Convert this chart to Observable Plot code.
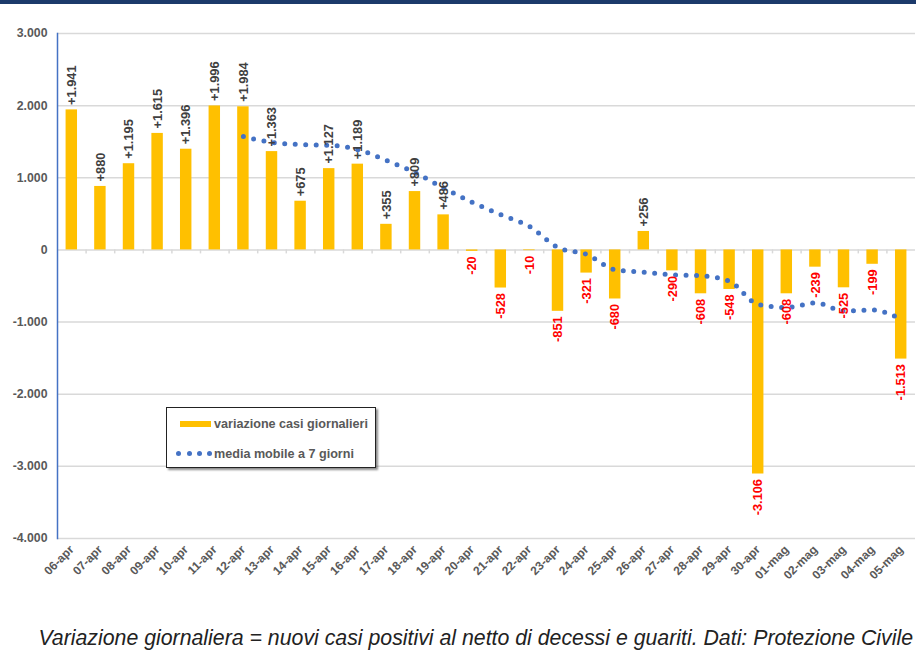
<!DOCTYPE html>
<html><head><meta charset="utf-8">
<script src="https://cdn.jsdelivr.net/npm/d3@7"></script>
<script src="https://cdn.jsdelivr.net/npm/@observablehq/plot@0.6"></script>
<style>
body{margin:0;background:#fff;width:916px;height:653px;overflow:hidden;position:relative;font-family:"Liberation Sans",Arial,sans-serif;}
#topbar{position:absolute;left:0;top:0;width:916px;height:4px;background:#1c3a6b;}
#chart{position:absolute;left:0;top:0;}
#legend{position:absolute;left:166px;top:407px;width:208px;height:59px;border:1px solid #222;background:#fff;box-shadow:2px 2px 2px rgba(0,0,0,0.45);}
.lg{position:absolute;left:47px;font-weight:bold;font-size:12.6px;color:#595959;white-space:nowrap;line-height:14px;}
#sw1{position:absolute;left:13px;top:13px;width:31px;height:6px;background:#ffc000;}
.dot{position:absolute;width:5px;height:5px;border-radius:50%;background:#4472c4;top:43px;}
#caption{position:absolute;right:3px;top:626px;font-style:italic;font-size:21.3px;color:#222;white-space:nowrap;line-height:24px;}
</style>
</head><body>
<div id="chart"></div>
<div id="topbar"></div>
<div id="legend">
  <div id="sw1"></div><div class="lg" style="top:9px">variazione casi giornalieri</div>
  <div class="dot" style="left:9px"></div><div class="dot" style="left:20px"></div><div class="dot" style="left:30px"></div><div class="dot" style="left:40px"></div>
  <div class="lg" style="top:39px">media mobile a 7 giorni</div>
</div>
<div id="caption">Variazione giornaliera = nuovi casi positivi al netto di decessi e guariti. Dati: Protezione Civile</div>
<script>
const days = ["06-apr","07-apr","08-apr","09-apr","10-apr","11-apr","12-apr","13-apr","14-apr","15-apr","16-apr","17-apr","18-apr","19-apr","20-apr","21-apr","22-apr","23-apr","24-apr","25-apr","26-apr","27-apr","28-apr","29-apr","30-apr","01-mag","02-mag","03-mag","04-mag","05-mag"];
const variazione = [1941,880,1195,1615,1396,1996,1984,1363,675,1127,1189,355,809,486,-20,-528,-10,-851,-321,-680,256,-290,-608,-548,-3106,-608,-239,-525,-199,-1513];
const mediaDays = ["12-apr","13-apr","14-apr","15-apr","16-apr","17-apr","18-apr","19-apr","20-apr","21-apr","22-apr","23-apr","24-apr","25-apr","26-apr","27-apr","28-apr","29-apr","30-apr","01-mag","02-mag","03-mag","04-mag","05-mag"];
const mediaMobile = [1572,1490,1461,1451,1390,1241,1072,858,660,488,326,34,-62,-275,-308,-346,-358,-435,-757,-798,-735,-846,-833,-963];
const yTicks = [3000,2000,1000,0,-1000,-2000,-3000,-4000];

const loc = d3.formatLocale({decimal:",", thousands:".", grouping:[3], currency:["","€"], minus:"-"});
const fmtTick = loc.format(",d");
const fmtLab = loc.format("+,d");
const data = days.map((d,i)=>({day:d, v:variazione[i]}));
const ma = mediaDays.map((d,i)=>({day:d, v:mediaMobile[i]}));
const W = 916, ML = 57, MR = 1;
const step = (W-ML-MR)/days.length;
const font = "Liberation Sans, Arial, sans-serif";

const chart = Plot.plot({
  width:W, height:600, marginLeft:ML, marginRight:MR, marginTop:33, marginBottom:62,
  style:{fontFamily:font, background:"transparent", overflow:"visible"},
  x:{domain:days, paddingInner:0.6, paddingOuter:0.3, round:false, label:null},
  y:{domain:[-4000,3000], label:null},
  marks:[
    Plot.gridY(yTicks, {stroke:"#d9d9d9", strokeOpacity:1, strokeWidth:1.5}),
    Plot.ruleX(days.slice(1), {x:d=>d, y1:0, y2:-55, dx:-step/2, stroke:"#d9d9d9", strokeWidth:1.5}),
    Plot.barY(data, {x:"day", y:"v", fill:"#ffc000"}),
    Plot.line(ma, {x:"day", y:"v", stroke:"#4472c4", strokeWidth:5, strokeDasharray:"0 10.5", strokeLinecap:"round", curve:"monotone-x"}),
    Plot.text(data.filter(d=>d.v>0), {x:"day", y:"v", text:d=>fmtLab(d.v), rotate:-90, textAnchor:"start", lineAnchor:"middle", dy:-5, fill:"#404040", fontWeight:"bold", fontSize:12.8}),
    Plot.text(data.filter(d=>d.v<0), {x:"day", y:"v", text:d=>fmtLab(d.v), rotate:-90, textAnchor:"end", lineAnchor:"middle", dy:5, fill:"#ff0000", fontWeight:"bold", fontSize:12.8}),
    Plot.axisY({ticks:yTicks, tickFormat:fmtTick, tickSize:0, tickPadding:10, fontWeight:"bold", fontSize:12.3, fill:"#595959", label:null}),
    Plot.axisX({tickRotate:-45, tickSize:0, tickPadding:9, fontWeight:"bold", fontSize:12, fill:"#595959", label:null}),
    Plot.frame({anchor:"left", stroke:"#4472c4", strokeWidth:1.5})
  ]
});
document.getElementById("chart").appendChild(chart);
</script>
</body></html>
